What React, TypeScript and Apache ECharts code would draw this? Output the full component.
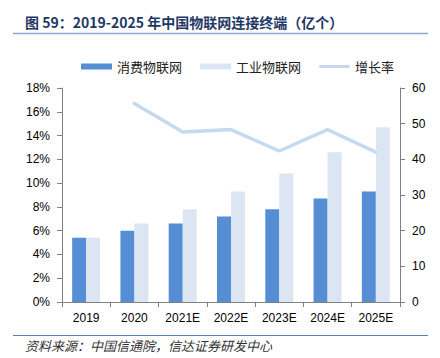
import React, { useEffect, useRef } from "react";
import * as echarts from "echarts";

const categories = ["2019", "2020", "2021E", "2022E", "2023E", "2024E", "2025E"];
const consumerIoT = [18, 20, 22, 24, 26, 29, 31];
const industrialIoT = [18, 22, 26, 31, 36, 42, 49];
const growthRate: (number | null)[] = [null, 16.7, 14.3, 14.5, 12.7, 14.5, 12.6];
const leftTicks = [0, 2, 4, 6, 8, 10, 12, 14, 16, 18];
const rightTicks = [0, 10, 20, 30, 40, 50, 60];

const FONT = "'Liberation Sans', Arial, sans-serif";
const CJK = "'Noto Sans CJK SC', sans-serif";

export default function App() {
  const ref = useRef<HTMLDivElement>(null);
  useEffect(() => {
    if (!ref.current) return;
    const chart = echarts.init(ref.current, undefined, { renderer: "svg" });
    chart.setOption({
      animation: false,
      backgroundColor: "#ffffff",
      graphic: [
        {
          type: "text",
          x: 25,
          y: 22,
          style: {
            text: "图 59：2019-2025 年中国物联网连接终端（亿个）",
            font: `bold 14px ${CJK}`,
            fill: "#1f3864",
            textAlign: "left",
            textVerticalAlign: "middle",
          },
        },
        {
          type: "line",
          shape: { x1: 13, y1: 33.5, x2: 428, y2: 33.5 },
          style: { stroke: "#8ea9cf", lineWidth: 1.5 },
        },
        {
          type: "line",
          shape: { x1: 13, y1: 335.5, x2: 428, y2: 335.5 },
          style: { stroke: "#5b7fb5", lineWidth: 1 },
        },
        {
          type: "text",
          x: 25,
          y: 345,
          style: {
            text: "资料来源：中国信通院，信达证券研发中心",
            font: `italic 13px ${CJK}`,
            fill: "#333333",
            textAlign: "left",
            textVerticalAlign: "middle",
          },
        },
      ],
      legend: {
        top: 55,
        left: 76,
        itemWidth: 31,
        itemHeight: 6,
        itemGap: 18,
        textStyle: { fontFamily: CJK, fontSize: 13, color: "#222" },
        data: [
          { name: "消费物联网", icon: "rect" },
          { name: "工业物联网", icon: "rect" },
          {
            name: "增长率",
            icon: "path://M0,0 L0.01,0 M1.5,1.5 H29.5 A1.5,1.5 0 0 1 29.5,4.5 H1.5 A1.5,1.5 0 0 1 1.5,1.5 Z M31,6 L30.99,6",
          },
        ],
      },
      grid: { left: 62, right: 40, top: 88, bottom: 56 },
      xAxis: {
        type: "category",
        data: categories,
        axisLine: { lineStyle: { color: "#808080" } },
        axisTick: { show: true, alignWithLabel: false, lineStyle: { color: "#808080" } },
        axisLabel: { color: "#000", fontFamily: FONT, fontSize: 12, margin: 10 },
      },
      yAxis: [
        {
          type: "value",
          min: 0,
          max: 18,
          interval: 2,
          axisLine: { show: true, lineStyle: { color: "#808080" } },
          axisTick: { show: true, lineStyle: { color: "#808080" } },
          splitLine: { show: false },
          axisLabel: {
            color: "#000",
            fontFamily: FONT,
            fontSize: 12,
            margin: 12,
            formatter: (v: number) => (leftTicks.includes(v) ? `${v}%` : ""),
          },
        },
        {
          type: "value",
          min: 0,
          max: 60,
          interval: 10,
          position: "right",
          axisLine: { show: true, lineStyle: { color: "#808080" } },
          axisTick: { show: true, lineStyle: { color: "#808080" } },
          splitLine: { show: false },
          axisLabel: {
            color: "#000",
            fontFamily: FONT,
            fontSize: 12,
            margin: 12,
            formatter: (v: number) => (rightTicks.includes(v) ? `${v}` : ""),
          },
        },
      ],
      series: [
        {
          name: "消费物联网",
          type: "bar",
          yAxisIndex: 1,
          data: consumerIoT,
          barWidth: 14,
          barGap: "0%",
          itemStyle: { color: "#558ed5" },
        },
        {
          name: "工业物联网",
          type: "bar",
          yAxisIndex: 1,
          data: industrialIoT,
          barWidth: 14,
          itemStyle: { color: "#dce6f2" },
        },
        {
          name: "增长率",
          type: "line",
          yAxisIndex: 0,
          data: growthRate,
          showSymbol: false,
          symbol: "none",
          lineStyle: { color: "#c6d9f1", width: 3.5, cap: "round" },
          itemStyle: { color: "#c6d9f1" },
        },
      ],
    });
    return () => chart.dispose();
  }, []);
  return (
    <div
      ref={ref}
      style={{ position: "absolute", left: 0, top: 0, width: 440, height: 358 }}
    />
  );
}
